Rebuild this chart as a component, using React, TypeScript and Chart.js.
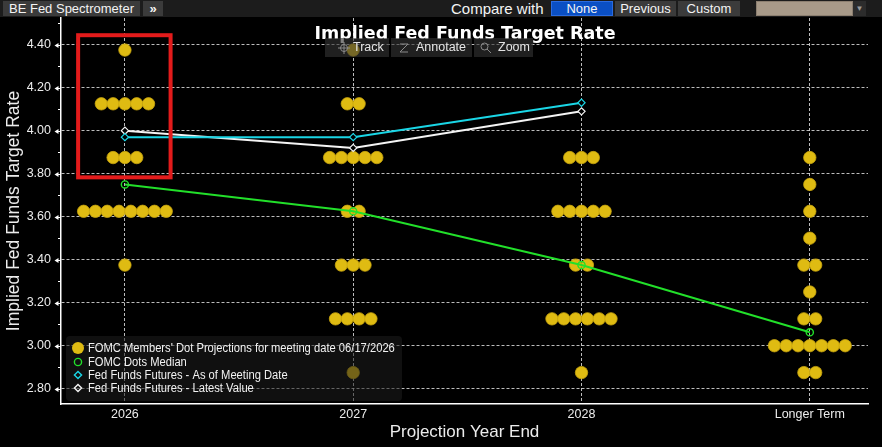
import React, { useEffect, useRef } from "react";
import { Chart, registerables } from "chart.js";

Chart.register(...registerables);

// ---- data ---------------------------------------------------------------
const CATEGORIES = ["2026", "2027", "2028", "Longer Term"];

// FOMC participants' dots: [rate, number of participants]
const DOTS_2026: [number, number][] = [[4.375, 1], [4.125, 5], [3.875, 3], [3.625, 8], [3.375, 1]];
const DOTS_2027: [number, number][] = [[4.375, 1], [4.125, 2], [3.875, 5], [3.625, 2], [3.375, 3], [3.125, 4], [2.875, 1]];
const DOTS_2028: [number, number][] = [[3.875, 3], [3.625, 5], [3.375, 2], [3.125, 6], [2.875, 1]];
const DOTS_LONGER: [number, number][] = [[3.875, 1], [3.75, 1], [3.625, 1], [3.5, 1], [3.375, 2], [3.25, 1], [3.125, 2], [3.0, 7], [2.875, 2]];

const DOTS_MEDIAN = [3.75, 3.625, 3.375, 3.0625];
const FUTURES_AS_OF_MEETING = [3.97, 3.97, 4.13];
const FUTURES_LATEST = [4.0, 3.92, 4.09];

const Y_TICKS = [2.8, 3.0, 3.2, 3.4, 3.6, 3.8, 4.0, 4.2, 4.4];
const Y_MINOR_TICKS = [2.9, 3.1, 3.3, 3.5, 3.7, 3.9, 4.1, 4.3, 4.5];

const LEGEND_LABELS = [
  "FOMC Members' Dot Projections for meeting date 06/17/2026",
  "FOMC Dots Median",
  "Fed Funds Futures - As of Meeting Date",
  "Fed Funds Futures - Latest Value",
];

// highlighted region around the 2026 upper dots (data units)
const HIGHLIGHT_X = [-0.205, 0.2];
const HIGHLIGHT_Y = [3.783, 4.444];

// ---- styles -------------------------------------------------------------
const SANS = "'Liberation Sans', Arial, sans-serif";
const TITLE_FONT = "bold 17.5px 'DejaVu Sans', sans-serif";
const TEXT = "#ececec";
const GRID = "rgba(235,235,235,0.8)";
const DOT = "#dfbb12";
const GREEN = "#22e02a";
const CYAN = "#1ad6e6";
const WHITE = "#f4f4f4";
const RED = "#e31b1b";

const X_MIN = -0.28;
const X_MAX = 3.255;
const Y_MIN = 2.729;
const Y_MAX = 4.524;
const DOT_STEP = 0.0517; // horizontal spacing between dots, category units

function buildDots() {
  const cols = [DOTS_2026, DOTS_2027, DOTS_2028, DOTS_LONGER];
  const pts: { x: number; y: number }[] = [];
  cols.forEach((col, ci) => {
    col.forEach(([rate, n]) => {
      for (let i = 0; i < n; i++) {
        pts.push({ x: ci + (i - (n - 1) / 2) * DOT_STEP, y: rate });
      }
    });
  });
  return pts;
}

const toPoints = (arr: number[]) => arr.map((y, i) => ({ x: i, y }));

function condensedText(ctx: CanvasRenderingContext2D, text: string, x: number, y: number, sx: number) {
  ctx.save();
  ctx.translate(x, y);
  ctx.scale(sx, 1);
  ctx.fillText(text, 0, 0);
  ctx.restore();
}

const backgroundPlugin = {
  id: "blackBackground",
  beforeDraw(chart: any) {
    const { ctx, width, height } = chart;
    ctx.save();
    ctx.fillStyle = "#000";
    ctx.fillRect(0, 0, width, height);
    ctx.restore();
  },
};

const overlayPlugin = {
  id: "overlays",
  afterDatasetsDraw(chart: any) {
    const { ctx, scales } = chart;
    const x = scales.x;
    const y = scales.y;
    // highlight box
    const x1 = x.getPixelForValue(HIGHLIGHT_X[0]);
    const x2 = x.getPixelForValue(HIGHLIGHT_X[1]);
    const y1 = y.getPixelForValue(HIGHLIGHT_Y[1]);
    const y2 = y.getPixelForValue(HIGHLIGHT_Y[0]);
    ctx.save();
    ctx.strokeStyle = RED;
    ctx.lineWidth = 4;
    ctx.strokeRect(x1, y1, x2 - x1, y2 - y1);
    ctx.restore();
  },
  afterDraw(chart: any) {
    const { ctx, scales, chartArea } = chart;
    const y = scales.y;
    const axisX = chartArea.left;
    ctx.save();
    // y tick marks: arrow heads at majors, short ticks at minors
    ctx.fillStyle = "#fff";
    ctx.strokeStyle = "#fff";
    ctx.lineWidth = 1;
    Y_TICKS.forEach((v) => {
      const py = Math.round(y.getPixelForValue(v)) + 0.5;
      ctx.beginPath();
      ctx.moveTo(axisX - 6.5, py);
      ctx.lineTo(axisX - 2.5, py - 2.5);
      ctx.lineTo(axisX - 2.5, py + 2.5);
      ctx.closePath();
      ctx.fill();
      ctx.beginPath();
      ctx.moveTo(axisX - 3, py);
      ctx.lineTo(axisX, py);
      ctx.stroke();
    });
    Y_MINOR_TICKS.forEach((v) => {
      if (v > Y_MAX) return;
      const py = Math.round(y.getPixelForValue(v)) + 0.5;
      ctx.beginPath();
      ctx.moveTo(axisX - 3, py);
      ctx.lineTo(axisX, py);
      ctx.stroke();
    });

    // title
    ctx.font = TITLE_FONT;
    ctx.fillStyle = "#fff";
    ctx.textAlign = "center";
    ctx.textBaseline = "alphabetic";
    ctx.fillText("Implied Fed Funds Target Rate", 465, 38.5);

    // legend
    const lx = 66, ly = 336, lw = 336, lh = 65;
    ctx.fillStyle = "rgba(30,30,30,0.55)";
    ctx.beginPath();
    ctx.roundRect(lx, ly, lw, lh, 4);
    ctx.fill();
    const rows = [348, 362, 375, 388];
    const mx = 78;
    // dot marker
    ctx.fillStyle = DOT;
    ctx.beginPath();
    ctx.arc(mx, rows[0], 6, 0, Math.PI * 2);
    ctx.fill();
    // median marker
    ctx.strokeStyle = GREEN;
    ctx.lineWidth = 1.4;
    ctx.beginPath();
    ctx.arc(mx, rows[1], 3.6, 0, Math.PI * 2);
    ctx.stroke();
    // diamond markers
    [[CYAN, rows[2]], [WHITE, rows[3]]].forEach(([c, ry]) => {
      ctx.strokeStyle = c as string;
      ctx.beginPath();
      ctx.moveTo(mx, (ry as number) - 3.6);
      ctx.lineTo(mx + 3.6, ry as number);
      ctx.lineTo(mx, (ry as number) + 3.6);
      ctx.lineTo(mx - 3.6, ry as number);
      ctx.closePath();
      ctx.stroke();
    });
    ctx.fillStyle = "#f2f2f2";
    ctx.font = `12.5px ${SANS}`;
    ctx.textAlign = "left";
    ctx.textBaseline = "middle";
    LEGEND_LABELS.forEach((t, i) => condensedText(ctx, t, 88, rows[i] + 0.5, 0.895));
    ctx.restore();
  },
};

function TopBar() {
  const btn: React.CSSProperties = {
    position: "absolute",
    top: 1,
    height: 15,
    background: "#3b3b3b",
    color: "#f4f4f4",
    fontSize: 13,
    lineHeight: "15px",
    textAlign: "center",
    whiteSpace: "nowrap",
  };
  return (
    <div style={{ position: "absolute", left: 0, top: 0, width: 882, height: 17, background: "#1c1c1c", fontFamily: SANS }}>
      <div style={{ ...btn, left: 3, width: 137 }}>BE Fed Spectrometer</div>
      <div style={{ ...btn, left: 143, width: 20, fontWeight: "bold" }}>»</div>
      <div style={{ position: "absolute", left: 451, top: 0, height: 17, lineHeight: "17px", fontSize: 15, color: "#f4f4f4", whiteSpace: "nowrap" }}>
        Compare with
      </div>
      <div style={{ ...btn, left: 551, width: 62, background: "#0a4fc4", boxShadow: "inset 0 0 0 1px #2a6be0" }}>None</div>
      <div style={{ ...btn, left: 615, width: 61 }}>Previous</div>
      <div style={{ ...btn, left: 678, width: 62 }}>Custom</div>
      <div style={{ position: "absolute", left: 756, top: 1, width: 97, height: 15, background: "#a89a89", boxShadow: "inset 0 0 0 1px #8c7f70" }} />
      <div style={{ position: "absolute", left: 853, top: 1, width: 13, height: 15, background: "#2c2c2c", color: "#9a9a9a", fontSize: 8, lineHeight: "15px", textAlign: "center" }}>▼</div>
    </div>
  );
}

function ChartToolbar() {
  const box: React.CSSProperties = {
    position: "absolute",
    top: 38,
    height: 19,
    background: "rgba(52,52,52,0.62)",
    color: "#e4e4e4",
    fontSize: 12.5,
    lineHeight: "19px",
    fontFamily: SANS,
    whiteSpace: "nowrap",
    display: "flex",
    alignItems: "center",
  };
  const icon = { stroke: "#8a8a8a", strokeWidth: 1, fill: "none" };
  return (
    <>
      <div style={{ ...box, left: 325, width: 64 }}>
        <svg width="14" height="14" style={{ marginLeft: 12, marginRight: 2 }}>
          <circle cx="7" cy="7" r="3.5" {...icon} />
          <path d="M7 1 V13 M1 7 H13" {...icon} />
        </svg>
        Track
      </div>
      <div style={{ ...box, left: 391, width: 81 }}>
        <svg width="14" height="14" style={{ marginLeft: 6, marginRight: 5 }}>
          <path d="M3 3 H11 L3 11 H11" {...icon} />
        </svg>
        Annotate
      </div>
      <div style={{ ...box, left: 474, width: 59 }}>
        <svg width="14" height="14" style={{ marginLeft: 5, marginRight: 5 }}>
          <circle cx="5.5" cy="5.5" r="3.5" {...icon} />
          <path d="M8 8 L12 12" {...icon} />
        </svg>
        Zoom
      </div>
    </>
  );
}

export default function App() {
  const canvasRef = useRef<HTMLCanvasElement>(null);

  useEffect(() => {
    const canvas = canvasRef.current;
    if (!canvas) return;
    const chart = new Chart(canvas, {
      type: "scatter",
      data: {
        datasets: [
          {
            label: "FOMC Dots Median",
            data: toPoints(DOTS_MEDIAN),
            showLine: true,
            borderColor: GREEN,
            borderWidth: 2,
            pointStyle: "circle",
            pointRadius: 3.6,
            pointBackgroundColor: "rgba(0,0,0,0)",
            pointBorderColor: GREEN,
            pointBorderWidth: 1.4,
            order: 0,
          },
          {
            label: "Fed Funds Futures - Latest Value",
            data: toPoints(FUTURES_LATEST),
            showLine: true,
            borderColor: WHITE,
            borderWidth: 2,
            pointStyle: "rectRot",
            pointRadius: 3.6,
            pointBackgroundColor: "#000",
            pointBorderColor: WHITE,
            pointBorderWidth: 1.2,
            order: 1,
          },
          {
            label: "Fed Funds Futures - As of Meeting Date",
            data: toPoints(FUTURES_AS_OF_MEETING),
            showLine: true,
            borderColor: CYAN,
            borderWidth: 2,
            pointStyle: "rectRot",
            pointRadius: 3.6,
            pointBackgroundColor: "#000",
            pointBorderColor: CYAN,
            pointBorderWidth: 1.2,
            order: 0,
          },
          {
            label: "FOMC Members' Dot Projections",
            data: buildDots(),
            showLine: false,
            pointRadius: 6.2,
            pointBackgroundColor: DOT,
            pointBorderColor: "#c8a50e",
            pointBorderWidth: 0.8,
            order: 3,
          },
        ],
      },
      options: {
        responsive: false,
        animation: false,
        devicePixelRatio: 1,
        events: [],
        layout: { padding: { top: 18, right: 14, left: 0, bottom: 0 } },
        plugins: {
          legend: { display: false },
          tooltip: { enabled: false },
          title: { display: false },
        },
        scales: {
          x: {
            type: "linear",
            position: "bottom",
            min: X_MIN,
            max: X_MAX,
            afterFit: (s: any) => {
              s.height = 43;
            },
            afterBuildTicks: (s: any) => {
              s.ticks = CATEGORIES.map((_, i) => ({ value: i }));
            },
            ticks: {
              callback: (v: any) => CATEGORIES[v] ?? "",
              color: TEXT,
              font: { family: SANS, size: 12.5 },
              padding: 3,
              maxRotation: 0,
              autoSkip: false,
            },
            grid: { color: GRID, lineWidth: 1, drawTicks: false },
            border: { display: true, color: "#fff", width: 1.5, dash: [3, 2] },
            title: {
              display: true,
              text: "Projection Year End",
              color: TEXT,
              font: { family: SANS, size: 17 },
              padding: { top: 0, bottom: 4 },
            },
          },
          y: {
            type: "linear",
            min: Y_MIN,
            max: Y_MAX,
            afterFit: (s: any) => {
              s.width = 61;
            },
            afterBuildTicks: (s: any) => {
              s.ticks = Y_TICKS.map((v) => ({ value: v }));
            },
            ticks: {
              callback: (v: any) => Number(v).toFixed(2),
              color: TEXT,
              font: { family: SANS, size: 12.5 },
              padding: 10,
            },
            grid: { color: GRID, lineWidth: 1, drawTicks: false },
            border: { display: true, color: "#fff", width: 1.5, dash: [3, 2] },
            title: {
              display: true,
              text: "Implied Fed Funds Target Rate",
              color: TEXT,
              font: { family: SANS, size: 17.5 },
              padding: { top: 4, bottom: 0 },
            },
          },
        },
      } as any,
      plugins: [backgroundPlugin, overlayPlugin],
    });
    return () => chart.destroy();
  }, []);

  return (
    <div style={{ position: "absolute", left: 0, top: 0, width: 882, height: 447, background: "#000", overflow: "hidden", fontFamily: SANS }}>
      <canvas ref={canvasRef} width={882} height={447} style={{ position: "absolute", left: 0, top: 0, width: 882, height: 447 }} />
      <TopBar />
      <ChartToolbar />
    </div>
  );
}
